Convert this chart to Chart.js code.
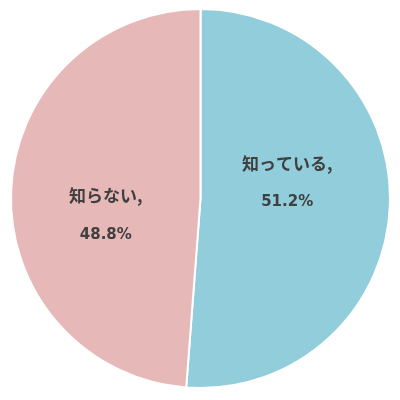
<!DOCTYPE html>
<html><head><meta charset="utf-8">
<script src="https://cdn.jsdelivr.net/npm/chart.js@4"></script>
<style>html,body{margin:0;padding:0;background:#fff}#w{width:400px;height:400px}</style>
</head><body><div id="w"><canvas id="c"></canvas></div>
<script>
const categories = ["知っている", "知らない"];
const values = [51.2, 48.8];
const valueLabels = ["51.2%", "48.8%"];
const colors = ["#92CDDC", "#E6B9B8"];

const labelPlugin = {
  id: 'lbl',
  afterDatasetsDraw(chart) {
    const ctx = chart.ctx;
    const meta = chart.getDatasetMeta(0);
    const offs = [[-8, -20], [0, 20]];
    ctx.save();
    ctx.fillStyle = '#404040';
    ctx.textAlign = 'center';
    ctx.textBaseline = 'middle';
    meta.data.forEach((arc, i) => {
      const p = arc.tooltipPosition();
      const x = p.x + offs[i][0], y = p.y + offs[i][1];
      ctx.font = 'bold 17px "Noto Sans CJK JP", sans-serif';
      ctx.fillText(categories[i] + ',', x, y - 19);
      ctx.font = 'bold 15px "DejaVu Sans", sans-serif';
      ctx.fillText(valueLabels[i], x, y + 20);
    });
    ctx.restore();
  }
};

new Chart(document.getElementById('c'), {
  type: 'pie',
  data: { labels: categories, datasets: [{ data: values, backgroundColor: colors, borderColor: '#fff', borderWidth: 2 }] },
  options: {
    responsive: true, maintainAspectRatio: false, animation: false,
    layout: { padding: { top: 8, bottom: 11, left: 10, right: 9 } },
    plugins: { legend: { display: false }, tooltip: { enabled: false } }
  },
  plugins: [labelPlugin]
});
</script></body></html>
